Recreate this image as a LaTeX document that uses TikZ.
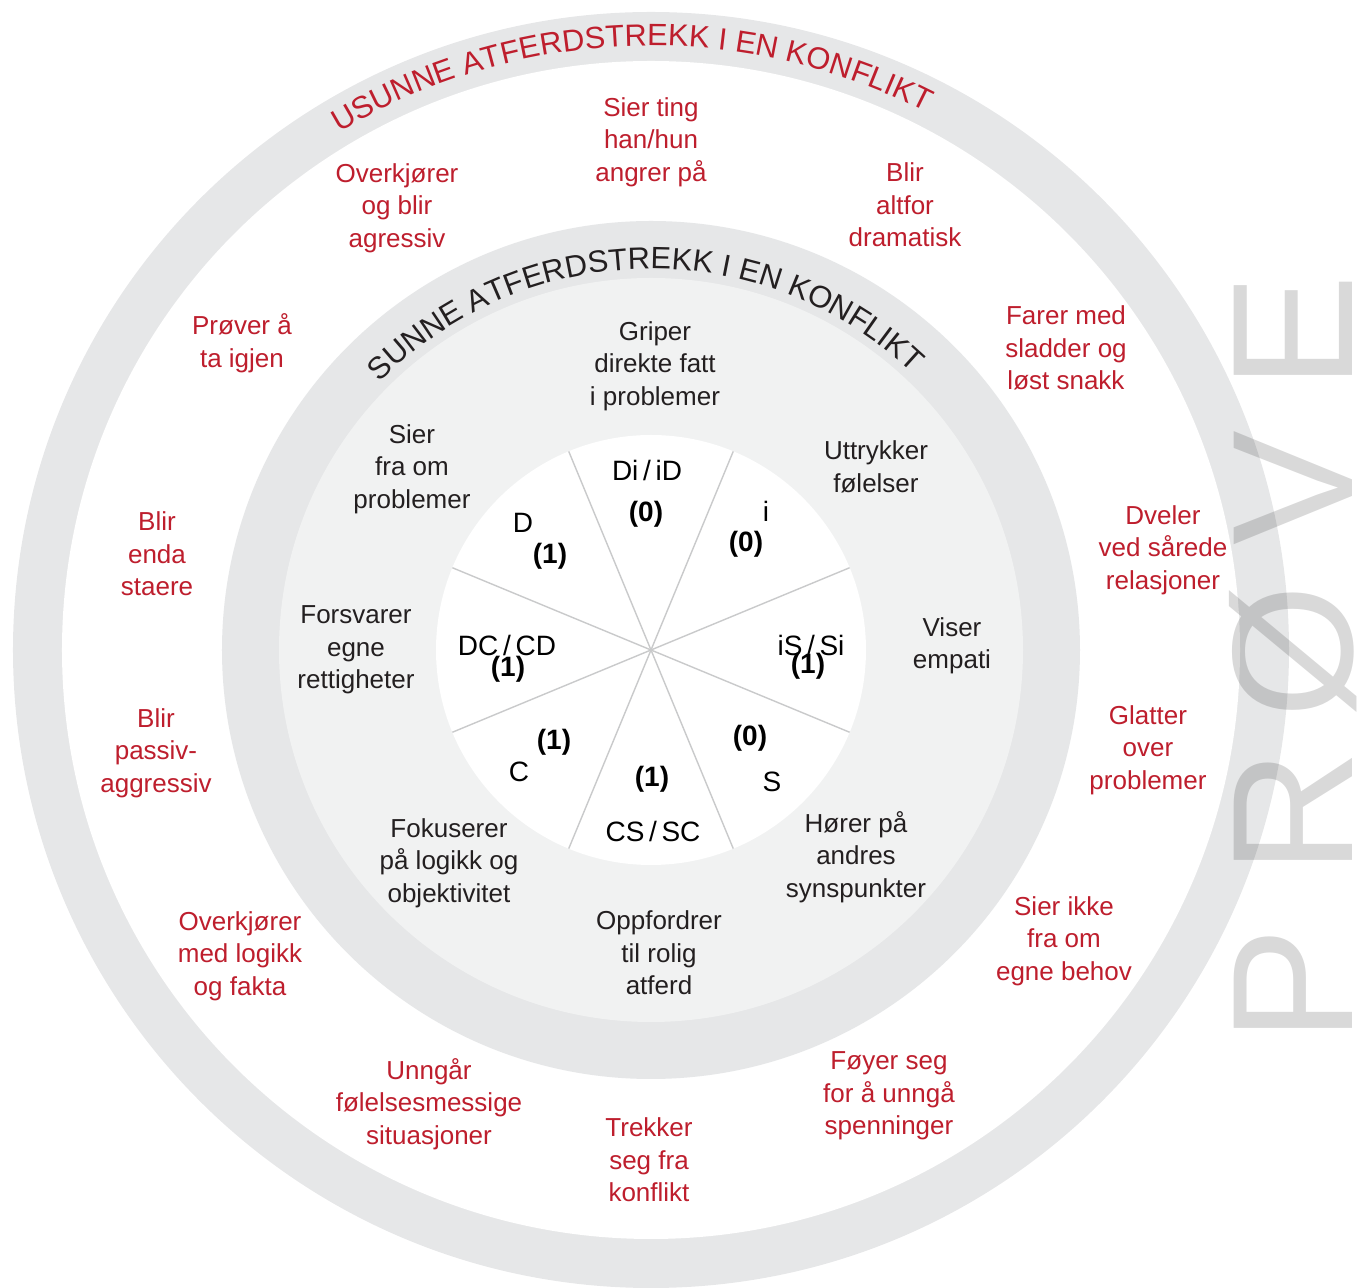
\documentclass[tikz,border=0pt]{standalone}
\usepackage{fontspec}
\setmainfont{Liberation Sans}
\usepackage{xcolor}
\usepackage{tikz}
\usetikzlibrary{decorations.text}

\definecolor{ringgrey}{HTML}{E6E7E8}
\definecolor{discgrey}{HTML}{F1F2F2}
\definecolor{spokegrey}{HTML}{C9CACB}
\definecolor{konfred}{HTML}{BE1E2D}
\definecolor{darktext}{HTML}{231F20}

\newcommand{\arcfont}{\fontsize{15.4}{15.4}\selectfont}

\begin{document}
\begin{tikzpicture}[x=0.5pt, y=0.5pt,
    unhealthy/.style={align=center, inner sep=0pt, text=konfred, font=\fontsize{13}{16.25}\selectfont},
    healthy/.style={align=center, inner sep=0pt, text=darktext, font=\fontsize{13}{16.25}\selectfont},
    sector/.style={inner sep=0pt, text=black, font=\fontsize{14}{16}\selectfont},
    score/.style={inner sep=0pt, text=black, font=\bfseries\fontsize{14}{16}\selectfont},
    spoke/.style={draw=spokegrey, line width=0.7pt},
    watermark/.style={rotate=90, inner sep=0pt, text height=61.5pt, text depth=0pt, text=black, text opacity=0.15, font=\fontsize{86}{86}\selectfont}]
\useasboundingbox (-651,-638) rectangle (714,650);

% Rings
\fill[ringgrey] (0,0) circle[radius=638];
\fill[white] (0,0) circle[radius=589];
\fill[ringgrey] (0,0) circle[radius=429];
\fill[discgrey] (0,0) circle[radius=372];
\fill[white] (0,0) circle[radius=215];

% Sector spokes
\foreach \a in {22.5,67.5,...,337.5} {
    \draw[spoke] (0,0) -- (\a:215);
}

% Ring titles along the arcs
\path[decorate, decoration={text along path, text align=center,
    text={|\arcfont\color{konfred}|USUNNE ATFERDSTREKK I EN KONFLIKT}}]
    (152:604) arc[start angle=152, end angle=32, radius=604];
\path[decorate, decoration={text along path, text align=center,
    text={|\arcfont\color{darktext}|SUNNE ATFERDSTREKK I EN KONFLIKT}}]
    (151:381) arc[start angle=151, end angle=31, radius=381];

% Unhealthy traits (outer ring)
\node (sierting) at (0,508) [unhealthy] {Sier ting\\han/hun\\angrer på};
\node (overkjorer) at (-254,442) [unhealthy] {Overkjører\\og blir\\agressiv};
\node (altfor) at (254,445) [unhealthy] {Blir\\altfor\\dramatisk};
\node (prover) at (-409,307) [unhealthy] {Prøver å\\ta igjen};
\node (sladder) at (415,302) [unhealthy] {Farer med\\sladder og\\løst snakk};
\node (staere) at (-494,96) [unhealthy] {Blir\\enda\\staere};
\node (dveler) at (512,100) [unhealthy] {Dveler\\ved sårede\\relasjoner};
\node (passiv) at (-495,-103) [unhealthy] {Blir\\passiv-\\aggressiv};
\node (glatter) at (497,-100) [unhealthy] {Glatter\\over\\problemer};
\node (logikk) at (-411,-306) [unhealthy] {Overkjører\\med logikk\\og fakta};
\node (sierikke) at (413,-291) [unhealthy] {Sier ikke\\fra om\\egne behov};
\node (unngar) at (-222,-454) [unhealthy] {Unngår\\følelsesmessige\\situasjoner};
\node (foyer) at (238,-446) [unhealthy] {Føyer seg\\for å unngå\\spenninger};
\node (trekker) at (-2,-510) [unhealthy] {Trekker\\seg fra\\konflikt};

% Healthy traits (inner ring)
\node (griper) at (4,284) [healthy] {Griper\\direkte fatt\\i problemer};
\node (sierfra) at (-239,181) [healthy] {Sier\\fra om\\problemer};
\node (uttrykker) at (225,183) [healthy] {Uttrykker\\følelser};
\node (forsvarer) at (-295,0) [healthy] {Forsvarer\\egne\\rettigheter};
\node (viser) at (301,4) [healthy] {Viser\\empati};
\node (fokuserer) at (-202,-213) [healthy] {Fokuserer\\på logikk og\\objektivitet};
\node (horer) at (205,-207) [healthy] {Hører på\\andres\\synspunkter};
\node (oppfordrer) at (8,-303) [healthy] {Oppfordrer\\til rolig\\atferd};

% Styles and scores in the sectors
\node (di) at (-4,179) [sector] {Di\,/\,iD};
\node (dis) at (-5,136) [score] {(0)};
\node (i) at (115,139) [sector] {i};
\node (is) at (95,106) [score] {(0)};
\node (si) at (160,5) [sector] {iS\,/\,Si};
\node (sis) at (157,-16) [score] {(1)};
\node (s) at (121,-132) [sector] {S};
\node (ss) at (99,-88) [score] {(0)};
\node (cs) at (2,-181) [sector] {CS\,/\,SC};
\node (css) at (1,-129) [score] {(1)};
\node (c) at (-132,-122) [sector] {C};
\node (cscore) at (-97,-92) [score] {(1)};
\node (dc) at (-144,5) [sector] {DC\,/\,CD};
\node (dcs) at (-143,-19) [score] {(1)};
\node (d) at (-128,127) [sector] {D};
\node (ds) at (-101,94) [score] {(1)};

% Watermark
\foreach \l/\y [count=\i] in {P/-335, R/-162, Ø/-2, V/162, E/318} {
    \node (wm\i) at (640,\y) [watermark] {\l};
}
\end{tikzpicture}
\end{document}
